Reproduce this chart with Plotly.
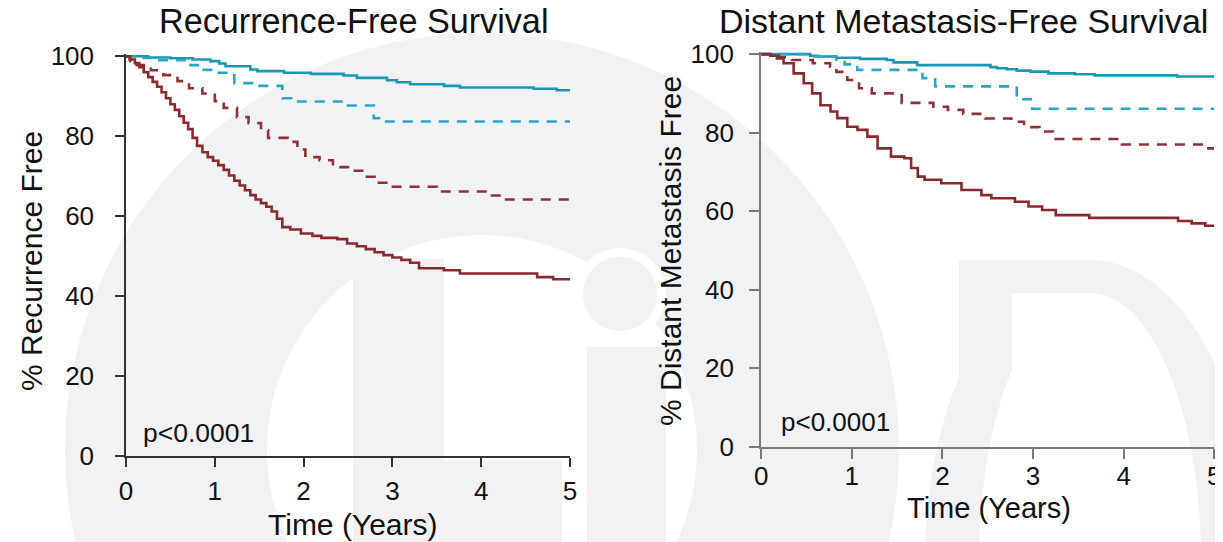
import numpy as np
import plotly.graph_objects as go

# The page places the figure 8 px from the top-left corner of the window.
OFF = 8
W, H = 1223 - OFF, 542 - OFF

# ---------------- Data ----------------
# Left panel: Recurrence-Free Survival
rfs_teal_solid_t = [0, 0.25, 0.5, 0.75, 0.95, 1.05, 1.12, 1.40, 1.48, 1.78, 2.08, 2.45, 2.60, 2.94, 3.05, 3.20, 3.58, 3.76, 4.59, 4.85, 5.0]
rfs_teal_solid_s = [100, 99.7, 99.5, 99.2, 98.8, 98.2, 97.5, 96.7, 96.3, 95.9, 95.6, 95.2, 94.6, 94.0, 93.5, 93.0, 92.6, 92.2, 91.9, 91.5, 91.5]

rfs_teal_dash_t = [0, 0.12, 0.35, 0.68, 0.85, 1.0, 1.22, 1.45, 1.76, 1.86, 2.45, 2.79, 2.85, 5.0]
rfs_teal_dash_s = [100, 99.6, 99.0, 97.8, 96.6, 95.9, 93.3, 92.6, 89.5, 88.7, 87.7, 84.5, 83.7, 83.7]

rfs_red_dash_t = [0, 0.05, 0.12, 0.28, 0.42, 0.58, 0.71, 0.86, 1.0, 1.1, 1.25, 1.38, 1.52, 1.6, 1.82, 1.93, 2.02, 2.18, 2.33, 2.5, 2.66, 2.8, 2.95, 3.5, 4.12, 4.28, 5.0]
rfs_red_dash_s = [100, 98.8, 97.8, 96.5, 95.3, 93.8, 92.0, 90.7, 88.8, 87.1, 84.8, 83.3, 81.5, 79.6, 78.6, 76.7, 74.8, 74.0, 72.3, 71.4, 69.9, 68.4, 67.4, 66.2, 65.2, 64.2, 64.2]

rfs_red_solid_t = [0, 0.04, 0.1, 0.15, 0.2, 0.25, 0.3, 0.35, 0.4, 0.45, 0.5, 0.55, 0.6, 0.65, 0.7, 0.75, 0.8, 0.86, 0.92, 0.98, 1.04, 1.1, 1.16, 1.22, 1.28, 1.34, 1.4, 1.46, 1.52, 1.58, 1.64, 1.7, 1.76, 1.85, 1.97, 2.1, 2.2, 2.38, 2.49, 2.6, 2.7, 2.8, 2.9, 3.0, 3.1, 3.2, 3.3, 3.58, 3.76, 4.63, 4.81, 5.0]
rfs_red_solid_s = [100, 99.2, 98.3, 97.3, 96.0, 94.8, 93.6, 92.4, 91.0, 89.5, 88.0, 86.6, 85.0, 83.4, 81.8, 79.6, 77.6, 76.0, 74.8, 73.9, 72.8, 71.6, 70.2, 68.9, 67.7, 66.5, 65.3, 64.2, 63.3, 62.4, 61.2, 59.4, 57.3, 56.7, 55.7, 55.1, 54.6, 54.3, 53.2, 52.5, 51.8, 51.0, 50.3, 49.7, 49.1, 48.4, 47.0, 46.5, 45.7, 44.8, 44.25, 44.25]

# Right panel: Distant Metastasis-Free Survival
dmfs_teal_solid_t = [0, 0.54, 0.63, 0.83, 1.09, 1.385, 1.46, 1.72, 2.53, 2.6, 2.71, 2.82, 2.97, 3.17, 3.46, 3.68, 4.59, 5.0]
dmfs_teal_solid_s = [100, 99.6, 99.4, 99.1, 98.8, 98.5, 97.9, 97.2, 96.7, 96.4, 96.15, 95.8, 95.55, 95.1, 94.9, 94.6, 94.3, 94.3]

dmfs_teal_dash_t = [0, 0.55, 0.83, 0.92, 1.06, 1.78, 1.92, 2.82, 2.99, 5.0]
dmfs_teal_dash_s = [100, 99.4, 98.5, 97.4, 96.0, 93.9, 91.8, 88.5, 86.1, 86.1]

dmfs_red_dash_t = [0, 0.1, 0.2, 0.34, 0.57, 0.76, 0.83, 0.95, 1.08, 1.22, 1.55, 1.9, 2.06, 2.23, 2.47, 2.76, 2.9, 3.07, 3.22, 3.98, 4.86, 5.0]
dmfs_red_dash_s = [100, 99.6, 99.2, 98.5, 97.7, 96.8, 95.5, 93.4, 91.3, 90.0, 87.6, 86.6, 85.8, 84.8, 83.6, 82.8, 81.4, 80.3, 78.4, 77.0, 76.0, 76.0]

dmfs_red_solid_t = [0, 0.1, 0.173, 0.247, 0.358, 0.469, 0.562, 0.654, 0.765, 0.839, 0.95, 1.062, 1.172, 1.284, 1.432, 1.58, 1.654, 1.728, 1.802, 1.987, 2.21, 2.43, 2.54, 2.80, 2.95, 3.10, 3.25, 3.62, 4.6, 4.75, 4.9, 5.0]
dmfs_red_solid_s = [100, 99.6, 98.9, 97.7, 95.1, 92.6, 90.0, 87.0, 85.4, 83.7, 81.5, 80.7, 79.0, 76.0, 73.9, 73.5, 71.0, 68.8, 68.0, 67.1, 65.4, 64.1, 63.3, 62.4, 61.2, 60.3, 59.0, 58.3, 57.5, 56.9, 56.3, 56.3]

x_ticks = [0, 1, 2, 3, 4, 5]
y_ticks = [0, 20, 40, 60, 80, 100]

TEAL = "#1a97b4"
TEAL_D = "#2aa5c4"
RED = "#8a2a2f"
RED_D = "#8e3237"
FONT = "Liberation Sans, Arial, sans-serif"
WM = "#f1f2f4"

fig = go.Figure()

def add(t, s, color, dash, xa, ya):
    fig.add_trace(go.Scatter(
        x=t, y=s, mode="lines", xaxis=xa, yaxis=ya,
        line=dict(color=color, width=2.6, shape="hv", dash=dash),
        showlegend=False, hoverinfo="skip"))

DASH = "10px,8px"
add(rfs_teal_solid_t, rfs_teal_solid_s, TEAL, "solid", "x", "y")
add(rfs_teal_dash_t, rfs_teal_dash_s, TEAL_D, DASH, "x", "y")
add(rfs_red_dash_t, rfs_red_dash_s, RED_D, DASH, "x", "y")
add(rfs_red_solid_t, rfs_red_solid_s, RED, "solid", "x", "y")

add(dmfs_teal_solid_t, dmfs_teal_solid_s, TEAL, "solid", "x2", "y2")
add(dmfs_teal_dash_t, dmfs_teal_dash_s, TEAL_D, DASH, "x2", "y2")
add(dmfs_red_dash_t, dmfs_red_dash_s, RED_D, DASH, "x2", "y2")
add(dmfs_red_solid_t, dmfs_red_solid_s, RED, "solid", "x2", "y2")

# window pixel -> paper coordinates
def px(x):
    return (x - OFF) / W

def py(y):
    return 1 - (y - OFF) / H

# ---------------- Watermark (decorative background) ----------------
def poly_path(xs, ys):
    pts = ["%.5f,%.5f" % (px(a), py(b)) for a, b in zip(xs, ys)]
    return "M" + " L".join(pts) + " Z"

def circle_pts(cx, cy, r, reverse=False, n=160, ry=None):
    ry = r if ry is None else ry
    a = np.linspace(0, 2 * np.pi, n, endpoint=False)
    if reverse:
        a = a[::-1]
    return cx + r * np.cos(a), cy + ry * np.sin(a)

shapes = []
ox, oy = circle_pts(482, 450, 417)
ix, iy = circle_pts(482, 450, 215, reverse=True)
shapes.append(dict(type="path", path=poly_path(ox, oy) + " " + poly_path(ix, iy),
                   fillcolor=WM, line=dict(width=0), layer="below"))

def rect(x0, y0, x1, y1, color):
    shapes.append(dict(type="rect", x0=px(x0), x1=px(x1), y0=py(y1), y1=py(y0),
                       fillcolor=color, line=dict(width=0), layer="below"))

def circ(cx, cy, r, color):
    xs, ys = circle_pts(cx, cy, r)
    shapes.append(dict(type="path", path=poly_path(xs, ys),
                       fillcolor=color, line=dict(width=0), layer="below"))

# L
rect(353, 259, 444, 560, WM)
rect(444, 461, 562, 560, WM)
# i (with white gap around)
circ(620, 294, 46, "#ffffff")
rect(577, 337, 676, 560, "#ffffff")
circ(620, 294, 37, WM)
rect(587, 347, 666, 560, WM)
# D
rect(959, 260, 1090, 560, WM)
dx, dy = circle_pts(1090, 560, 165, ry=300)
shapes.append(dict(type="path", path=poly_path(dx, dy), fillcolor=WM, line=dict(width=0), layer="below"))
dx2, dy2 = circle_pts(1090, 560, 111, ry=267)
shapes.append(dict(type="path", path=poly_path(dx2, dy2), fillcolor="#ffffff", line=dict(width=0), layer="below"))
rect(1012, 293, 1090, 560, "#ffffff")

for s in shapes:
    s["xref"] = "paper"
    s["yref"] = "paper"

# ---------------- Axes ----------------
def axis_common(color, lw, tl):
    return dict(showline=True, linecolor=color, linewidth=lw, ticks="outside",
                ticklen=tl, tickwidth=lw, tickcolor=color, showgrid=False,
                zeroline=False, fixedrange=True, automargin=False,
                tickfont=dict(family=FONT, size=26, color="#111"))

L_AX = "#333333"
R_AX = "#7a7a7a"

xl = axis_common(L_AX, 1.5, 9)
xl.update(domain=[px(126), px(570)], range=[0, 5], tickvals=x_ticks, anchor="y",
          ticklabelstandoff=2)
yl = axis_common(L_AX, 1.5, 9)
yl.update(domain=[py(456.3), py(54.3)], range=[0, 100.5], tickvals=y_ticks, anchor="x",
          ticklabelstandoff=16)

xr = axis_common(R_AX, 2, 10)
xr.update(domain=[px(761.2), px(1214.3)], range=[0, 5], tickvals=x_ticks, anchor="y2",
          ticklabelstandoff=-5)
yr = axis_common(R_AX, 2, 10)
yr.update(domain=[py(446.7), py(52.2)], range=[0, 100.5], tickvals=y_ticks, anchor="x2",
          ticklabelstandoff=10)

def ann(text, x, y, size, angle=0, xanchor="center"):
    return dict(text=text, x=px(x), y=py(y), xref="paper", yref="paper",
                showarrow=False, textangle=angle, xanchor=xanchor, yanchor="middle",
                font=dict(family=FONT, size=size, color="#111"))

annotations = [
    ann("Recurrence-Free Survival", 353, 21, 34.2),
    ann("Distant Metastasis-Free Survival", 963, 21, 34),
    ann("% Recurrence Free", 32, 261, 30, angle=-90),
    ann("% Distant Metastasis Free", 670, 251, 30, angle=-90),
    ann("Time (Years)", 352.7, 524, 30),
    ann("Time (Years)", 989.4, 508, 29),
    ann("p&lt;0.0001", 140.6, 433, 26.5, xanchor="left"),
    ann("p&lt;0.0001", 779.4, 421.7, 26, xanchor="left"),
]

fig.update_layout(
    width=W, height=H,
    margin=dict(l=0, r=0, t=0, b=0, pad=0, autoexpand=False),
    paper_bgcolor="#ffffff", plot_bgcolor="rgba(0,0,0,0)",
    xaxis=xl, yaxis=yl, xaxis2=xr, yaxis2=yr,
    shapes=shapes, annotations=annotations,
    font=dict(family=FONT, color="#111"),
    showlegend=False,
)

fig.write_html("out.html")
